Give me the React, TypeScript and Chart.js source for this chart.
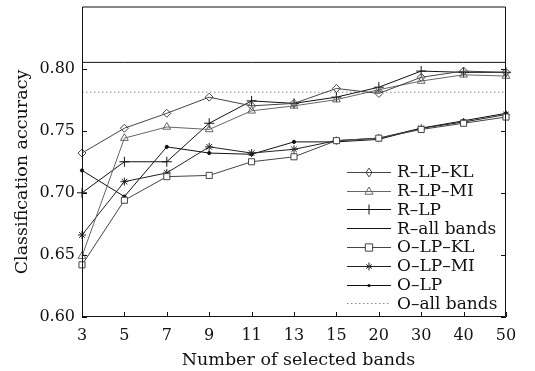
import React, { useEffect, useRef } from "react";
import { Chart, registerables } from "chart.js";

Chart.register(...registerables);

const categories = ["3", "5", "7", "9", "11", "13", "15", "20", "30", "40", "50"];
const rLpKl = [0.732, 0.752, 0.764, 0.777, 0.770, 0.772, 0.784, 0.780, 0.793, 0.798, 0.797];
const rLpMi = [0.649, 0.744, 0.753, 0.751, 0.766, 0.770, 0.775, 0.783, 0.790, 0.795, 0.794];
const rLp = [0.700, 0.725, 0.725, 0.756, 0.774, 0.772, 0.777, 0.785, 0.798, 0.797, 0.797];
const rAllBands = [0.805, 0.805, 0.805, 0.805, 0.805, 0.805, 0.805, 0.805, 0.805, 0.805, 0.805];
const oLpKl = [0.642, 0.694, 0.713, 0.714, 0.725, 0.729, 0.742, 0.744, 0.751, 0.756, 0.761];
const oLpMi = [0.666, 0.709, 0.716, 0.737, 0.732, 0.735, 0.742, 0.744, 0.752, 0.757, 0.763];
const oLp = [0.718, 0.697, 0.737, 0.732, 0.731, 0.741, 0.741, 0.743, 0.752, 0.758, 0.764];
const oAllBands = [0.781, 0.781, 0.781, 0.781, 0.781, 0.781, 0.781, 0.781, 0.781, 0.781, 0.781];
const yTicks = [0.60, 0.65, 0.70, 0.75, 0.80];
const xTitle = "Number of selected bands";
const yTitle = "Classification accuracy";

const FONT = "'DejaVu Serif', serif";

type Series = {
  label: string;
  data: number[];
  color: string;
  style: string | false;
  radius: number;
  dash?: number[];
};

const series: Series[] = [
  { label: "R\u2013LP\u2013KL", data: rLpKl, color: "#444", style: "rectRot", radius: 4 },
  { label: "R\u2013LP\u2013MI", data: rLpMi, color: "#666", style: "triangle", radius: 4.5 },
  { label: "R\u2013LP", data: rLp, color: "#111", style: "cross", radius: 5 },
  { label: "R\u2013all bands", data: rAllBands, color: "#111", style: false, radius: 0 },
  { label: "O\u2013LP\u2013KL", data: oLpKl, color: "#444", style: "rect", radius: 4.3 },
  { label: "O\u2013LP\u2013MI", data: oLpMi, color: "#222", style: "star", radius: 4 },
  { label: "O\u2013LP", data: oLp, color: "#111", style: "circle", radius: 1.6 },
  { label: "O\u2013all bands", data: oAllBands, color: "#888", style: false, radius: 0, dash: [1.5, 2.5] },
];

function drawMarker(ctx: CanvasRenderingContext2D, style: string | false, x: number, y: number, r: number, color: string) {
  if (!style) return;
  ctx.save();
  ctx.strokeStyle = color;
  ctx.fillStyle = color;
  ctx.lineWidth = 1;
  ctx.setLineDash([]);
  ctx.beginPath();
  if (style === "rectRot") {
    ctx.moveTo(x, y - r * 1.1);
    ctx.lineTo(x + r * 0.75, y);
    ctx.lineTo(x, y + r * 1.1);
    ctx.lineTo(x - r * 0.75, y);
    ctx.closePath();
    ctx.stroke();
  } else if (style === "triangle") {
    ctx.moveTo(x, y - r);
    ctx.lineTo(x + r * 0.9, y + r * 0.6);
    ctx.lineTo(x - r * 0.9, y + r * 0.6);
    ctx.closePath();
    ctx.stroke();
  } else if (style === "cross") {
    ctx.moveTo(x, y - r);
    ctx.lineTo(x, y + r);
    ctx.stroke();
  } else if (style === "rect") {
    const s = r * 0.85;
    ctx.rect(x - s, y - s, 2 * s, 2 * s);
    ctx.fillStyle = "#fff";
    ctx.fill();
    ctx.stroke();
  } else if (style === "star") {
    ctx.moveTo(x, y - r);
    ctx.lineTo(x, y + r);
    ctx.moveTo(x - r * 0.7, y - r * 0.5);
    ctx.lineTo(x + r * 0.7, y + r * 0.5);
    ctx.moveTo(x - r * 0.7, y + r * 0.5);
    ctx.lineTo(x + r * 0.7, y - r * 0.5);
    ctx.stroke();
  } else if (style === "circle") {
    ctx.arc(x, y, r, 0, Math.PI * 2);
    ctx.fill();
  }
  ctx.restore();
}

const framePlugin = {
  id: "frame",
  afterDraw(chart: any) {
    const { ctx, chartArea } = chart;
    const { left, right, top, bottom } = chartArea;
    const xs = chart.scales.x;
    const ys = chart.scales.y;
    ctx.save();
    ctx.strokeStyle = "#111";
    ctx.lineWidth = 1;
    ctx.setLineDash([]);
    ctx.beginPath();
    ctx.rect(left + 0.5, top + 0.5, right - left - 1, bottom - top - 1);
    ctx.stroke();
    const tl = 5;
    ctx.beginPath();
    categories.forEach((_, i) => {
      const px = Math.round(xs.getPixelForValue(i)) + 0.5;
      ctx.moveTo(px, bottom);
      ctx.lineTo(px, bottom - tl);
    });
    yTicks.forEach((v) => {
      const py = Math.round(ys.getPixelForValue(v)) + 0.5;
      ctx.moveTo(left, py);
      ctx.lineTo(left + tl, py);
      ctx.moveTo(right, py);
      ctx.lineTo(right - tl, py);
    });
    ctx.stroke();

    // axis titles
    ctx.fillStyle = "#111";
    ctx.font = `17.5px ${FONT}`;
    ctx.textAlign = "center";
    ctx.textBaseline = "alphabetic";
    ctx.fillText(xTitle, 298.5, 365);
    ctx.save();
    ctx.translate(26.5, 172);
    ctx.rotate(-Math.PI / 2);
    ctx.fillText(yTitle, 0, 0);
    ctx.restore();

    // legend
    const lineStart = right - 159;
    const lineEnd = right - 115;
    const textX = right - 109;
    const rowY0 = 171.7;
    const rowH = 18.8;
    ctx.font = `17px ${FONT}`;
    ctx.textBaseline = "middle";
    ctx.textAlign = "left";
    series.forEach((s, i) => {
      const y = rowY0 + i * rowH;
      ctx.save();
      ctx.strokeStyle = s.color;
      ctx.lineWidth = 1;
      ctx.setLineDash(s.dash || []);
      ctx.beginPath();
      ctx.moveTo(lineStart, Math.round(y) + 0.5);
      ctx.lineTo(lineEnd, Math.round(y) + 0.5);
      ctx.stroke();
      ctx.restore();
      drawMarker(ctx, s.style, (lineStart + lineEnd) / 2, Math.round(y) + 0.5, s.radius, s.color);
      ctx.fillStyle = "#111";
      ctx.fillText(s.label, textX, y + 1);
    });
    ctx.restore();
  },
};

export default function App() {
  const canvasRef = useRef<HTMLCanvasElement | null>(null);

  useEffect(() => {
    if (!canvasRef.current) return;
    const datasets = series.map((s) => ({
      label: s.label,
      data: s.data,
      borderColor: s.color,
      backgroundColor: s.color,
      borderWidth: 1,
      borderDash: s.dash || [],
      pointStyle: s.style === false ? false : (s.style as any),
      pointRadius: s.radius,
      pointBorderColor: s.color,
      pointBackgroundColor: s.style === "circle" ? s.color : s.style === "rect" ? "#fff" : "rgba(0,0,0,0)",
      pointBorderWidth: 1,
      tension: 0,
      fill: false,
    }));
    const chart = new Chart(canvasRef.current, {
      type: "line",
      data: { labels: categories, datasets },
      plugins: [framePlugin],
      options: {
        animation: false,
        responsive: false,
        maintainAspectRatio: false,
        layout: { padding: { top: 6.5, right: 29, left: 0, bottom: 0 } },
        plugins: { legend: { display: false }, tooltip: { enabled: false } },
        scales: {
          x: {
            type: "category",
            offset: false,
            grid: { display: false, drawTicks: false },
            border: { display: false },
            ticks: { color: "#111", font: { family: FONT, size: 16 }, padding: 9, maxRotation: 0, autoSkip: false },
            title: { display: false },
            afterFit: (scale: any) => {
              scale.height = 54;
              scale.paddingLeft = 0;
              scale.paddingRight = 0;
            },
          },
          y: {
            type: "linear",
            min: 0.6,
            max: 0.85,
            grid: { display: false, drawTicks: false },
            border: { display: false },
            afterBuildTicks: (scale: any) => {
              scale.ticks = yTicks.map((v) => ({ value: v }));
            },
            ticks: {
              color: "#111",
              padding: 7,
              font: { family: FONT, size: 16 },
              callback: (v: any) => Number(v).toFixed(2),
            },
            title: { display: false },
            afterFit: (scale: any) => {
              scale.width = 82;
              scale.paddingTop = 0;
              scale.paddingBottom = 0;
            },
          },
        },
      },
    });
    return () => chart.destroy();
  }, []);

  return (
    <div style={{ position: "fixed", left: 0, top: 0, width: 535, height: 371, background: "#fff" }}>
      <canvas ref={canvasRef} width={535} height={371} style={{ width: 535, height: 371, display: "block" }} />
    </div>
  );
}
